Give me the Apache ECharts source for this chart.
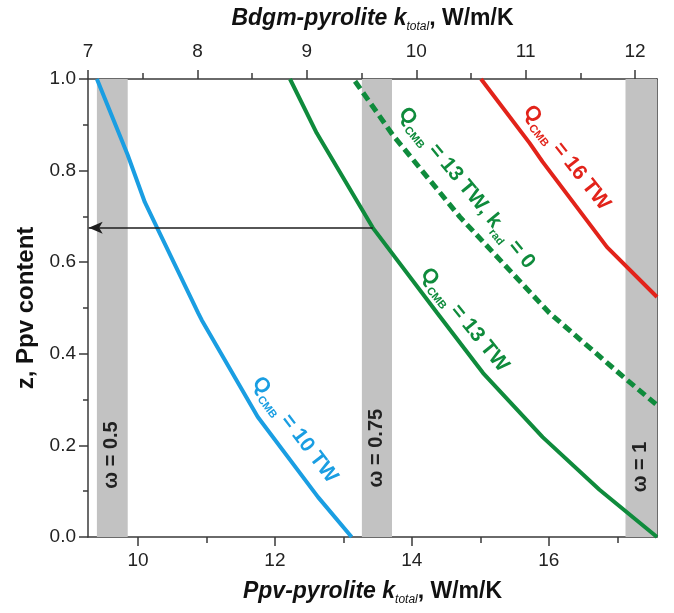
<!DOCTYPE html>
<html><head><meta charset="utf-8">
<script src="https://cdn.jsdelivr.net/npm/echarts@6/dist/echarts.min.js"></script>
<style>html,body{margin:0;padding:0;background:#fff}#c{width:674px;height:613px}</style>
</head><body><div id="c"></div>
<script>
// ---- data (bottom axis: Ppv-pyrolite k_total, y: Ppv content z) ----
const blueK  = [9.40, 9.85, 10.10, 10.28, 10.88, 10.93, 11.75, 12.63, 13.12];
const blueZ  = [1.0, 0.834, 0.731, 0.675, 0.489, 0.474, 0.262, 0.087, 0.0];
const greenK = [12.22, 12.61, 13.43, 14.37, 15.04, 15.91, 16.74, 17.58];
const greenZ = [1.0, 0.882, 0.675, 0.489, 0.358, 0.218, 0.103, 0.0];
const dashK  = [13.17, 13.72, 14.70, 16.01, 17.14, 17.58];
const dashZ  = [0.995, 0.878, 0.699, 0.489, 0.343, 0.288];
const redK   = [15.01, 15.72, 15.91, 16.85, 17.58];
const redZ   = [1.0, 0.86, 0.819, 0.633, 0.524];
const bandRanges = [[9.40, 9.85], [13.27, 13.71], [17.12, 17.58]];
const bandNames  = ['ω = 0.5', 'ω = 0.75', 'ω = 1'];
const bottomMin = 9.27, bottomMax = 17.58;
const topMin = 7, topMax = 12.2;
const bottomLabels = [10, 12, 14, 16];
const bottomMinor  = [11, 13, 15, 17];
const topLabels = [7, 8, 9, 10, 11, 12];
const topMinor  = [7.5, 8.5, 9.5, 10.5, 11.5];
const arrowZ = 0.675, arrowFromK = 13.43;

const FONT = "'Liberation Sans', Arial, sans-serif";
const AX = '#3a3a3a';
const BLUE = '#1a9ee2', GREEN = '#0f8b3c', RED = '#e2231a', GRAY = '#c2c2c2';

const pairs = (a, b) => a.map((v, i) => [v, b[i]]);
const chart = echarts.init(document.getElementById('c'));

const axisCommon = {
  type: 'value', splitLine: {show: false},
  axisLine: {show: true, lineStyle: {color: AX, width: 1.5}},
};
const labelStyle = {fontFamily: FONT, fontSize: 19, color: '#222'};
const titleRich = {
  bi: {fontFamily: FONT, fontSize: 23, fontWeight: 'bold', fontStyle: 'italic', color: '#111', lineHeight: 28},
  sub: {fontFamily: FONT, fontSize: 12, fontStyle: 'italic', color: '#111', verticalAlign: 'bottom', lineHeight: 8},
  b: {fontFamily: FONT, fontSize: 23, fontWeight: 'bold', color: '#111', lineHeight: 28}
};

chart.setOption({
  animation: false,
  backgroundColor: '#fff',
  grid: {left: 88, right: 17, top: 79, bottom: 76, containLabel: false, outerBoundsMode: 'none'},
  xAxis: [
    Object.assign({}, axisCommon, {
      position: 'bottom', min: bottomMin, max: bottomMax,
      axisTick: {show: true, customValues: bottomLabels, length: 9, lineStyle: {color: AX, width: 1.5}},
      axisLabel: Object.assign({customValues: bottomLabels, margin: 14}, labelStyle),
      name: '{bi|Ppv-pyrolite k}{sub|total}{b|, W/m/K}',
      nameLocation: 'middle', nameGap: 41,
      nameTextStyle: {rich: titleRich}
    }),
    Object.assign({}, axisCommon, {
      position: 'bottom', min: bottomMin, max: bottomMax,
      axisLine: {show: false},
      axisTick: {show: true, customValues: bottomMinor, length: 6, lineStyle: {color: AX, width: 1.5}},
      axisLabel: {show: false}
    }),
    Object.assign({}, axisCommon, {
      position: 'top', min: topMin, max: topMax,
      axisTick: {show: true, customValues: topLabels, length: 9, lineStyle: {color: AX, width: 1.5}},
      axisLabel: Object.assign({customValues: topLabels, margin: 18}, labelStyle),
      name: '{bi|Bdgm-pyrolite k}{sub|total}{b|, W/m/K}',
      nameLocation: 'middle', nameGap: 46,
      nameTextStyle: {rich: titleRich}
    }),
    Object.assign({}, axisCommon, {
      position: 'top', min: topMin, max: topMax,
      axisLine: {show: false},
      axisTick: {show: true, customValues: topMinor, length: 6, lineStyle: {color: AX, width: 1.5}},
      axisLabel: {show: false}
    })
  ],
  yAxis: [
    Object.assign({}, axisCommon, {
      position: 'left', min: 0, max: 1, interval: 0.2,
      axisTick: {show: true, length: 9, lineStyle: {color: AX, width: 1.5}},
      minorTick: {show: true, splitNumber: 2, length: 5, lineStyle: {color: AX, width: 1.5}},
      axisLabel: Object.assign({margin: 12, formatter: v => v.toFixed(1)}, labelStyle),
      name: 'z, Ppv content', nameLocation: 'middle', nameRotate: 90, nameGap: 49,
      nameTextStyle: {fontFamily: FONT, fontSize: 24, fontWeight: 'bold', color: '#111'}
    }),
    Object.assign({}, axisCommon, {
      position: 'right', min: 0, max: 1,
      axisTick: {show: false}, axisLabel: {show: false}
    })
  ],
  series: [
    {
      type: 'line', name: 'bands', xAxisIndex: 0, yAxisIndex: 0, data: [], silent: true,
      markArea: {silent: true, itemStyle: {color: GRAY, opacity: 1}, label: {show: false},
        data: bandRanges.map(r => [{xAxis: r[0]}, {xAxis: r[1]}])}
    },
    {type: 'line', name: 'Q10', xAxisIndex: 0, yAxisIndex: 0, data: pairs(blueK, blueZ), showSymbol: false, symbol: 'none',
      lineStyle: {color: BLUE, width: 4}, z: 3},
    {type: 'line', name: 'Q13', xAxisIndex: 0, yAxisIndex: 0, data: pairs(greenK, greenZ), showSymbol: false, symbol: 'none',
      lineStyle: {color: GREEN, width: 4}, z: 3},
    {type: 'line', name: 'Q13krad0', xAxisIndex: 0, yAxisIndex: 0, data: pairs(dashK, dashZ), showSymbol: false, symbol: 'none',
      lineStyle: {color: GREEN, width: 5, type: [9, 5]}, z: 3},
    {type: 'line', name: 'Q16', xAxisIndex: 0, yAxisIndex: 0, data: pairs(redK, redZ), showSymbol: false, symbol: 'none',
      lineStyle: {color: RED, width: 4}, z: 3},
    {
      type: 'line', name: 'arrow', xAxisIndex: 0, yAxisIndex: 0, data: [], silent: true,
      markLine: {silent: true, symbol: ['none', 'arrow'], symbolSize: [9, 14], label: {show: false},
        lineStyle: {color: '#1e1e1e', width: 1.5, type: 'solid'},
        data: [[{coord: [arrowFromK, arrowZ]}, {coord: [bottomMin + 0.01, arrowZ]}]]}
    }
  ]
});

// ---- annotations anchored in data coordinates ----
function richFor(color, size) {
  return {
    q: {fontFamily: FONT, fontSize: size, fontWeight: 'bold', fill: color, lineHeight: 28},
    s: {fontFamily: FONT, fontSize: 11, fontWeight: 'bold', fill: color, verticalAlign: 'bottom', lineHeight: 6}
  };
}
const curveLabels = [
  {k: 12.29, z: 0.234, ang: 52.7, color: BLUE, text: '{q|Q}{s|CMB}{q| = 10 TW}'},
  {k: 14.77, z: 0.474, ang: 51.0, color: GREEN, text: '{q|Q}{s|CMB}{q| = 13 TW}'},
  {k: 16.26, z: 0.828, ang: 51.7, color: RED, text: '{q|Q}{s|CMB}{q| = 16 TW}'},
  {k: 14.80, z: 0.762, ang: 50.5, color: GREEN, text: '{q|Q}{s|CMB}{q| = 13 TW, k}{s|rad}{q| = 0}'}
];
const bandLabelPos = [[9.62, 0.179], [13.49, 0.194], [17.34, 0.153]];

const graphics = [];
curveLabels.forEach(c => {
  const p = chart.convertToPixel({xAxisIndex: 0, yAxisIndex: 0}, [c.k, c.z]);
  graphics.push({type: 'text', x: p[0], y: p[1], rotation: -c.ang * Math.PI / 180, z: 10,
    style: {align: 'center', verticalAlign: 'middle', text: c.text, rich: richFor(c.color, 21)}});
});
bandNames.forEach((n, i) => {
  const p = chart.convertToPixel({xAxisIndex: 0, yAxisIndex: 0}, bandLabelPos[i]);
  graphics.push({type: 'text', x: p[0], y: p[1], rotation: Math.PI / 2, z: 10,
    style: {text: n, align: 'center', verticalAlign: 'middle', fontFamily: FONT, fontSize: 20, fontWeight: 'bold', fill: '#222'}});
});
chart.setOption({graphic: graphics});
</script></body></html>
